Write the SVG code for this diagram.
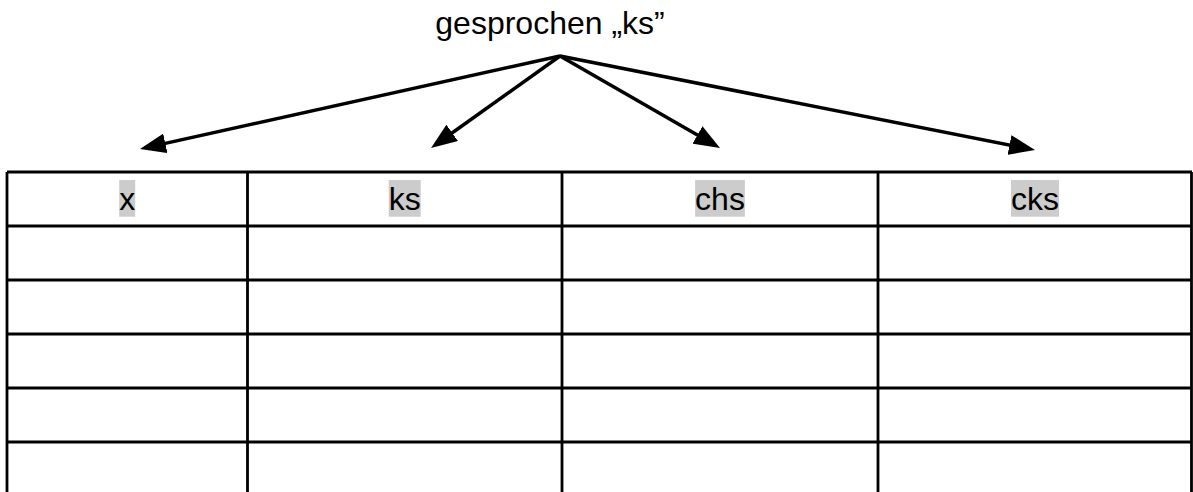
<svg xmlns="http://www.w3.org/2000/svg" width="1193" height="492" viewBox="0 0 1193 492">
  <style>
    .txt { font-family: "Liberation Sans", Arial, sans-serif; font-size: 32px; fill: #000; text-anchor: middle; }
    .hl { fill: #cccccc; }
    .grid { stroke: #000; stroke-width: 2.8; fill: none; }
    .conn { stroke: #000; stroke-width: 3.5; fill: none; marker-end: url(#arrow); }
  </style>
  <defs>
    <marker id="arrow" viewBox="0 0 26 20" refX="14" refY="10" markerWidth="26" markerHeight="20" markerUnits="userSpaceOnUse" orient="auto">
      <path d="M0,0 L26,10 L0,20 z" fill="#000"/>
    </marker>
  </defs>
  <rect width="1193" height="492" fill="#fff"/>

  <g id="title">
    <text class="txt" x="550" y="34">gesprochen „ks”</text>
  </g>

  <g id="connectors">
    <line class="conn" x1="560" y1="56" x2="151.7" y2="146.4"/>
    <line class="conn" x1="560" y1="56" x2="440.8" y2="141"/>
    <line class="conn" x1="560" y1="56" x2="709.6" y2="142"/>
    <line class="conn" x1="560" y1="56" x2="1023.2" y2="147.7"/>
  </g>

  <g id="table">
    <path class="grid" d="M7,172 H1192 M7,226 H1192 M7,280 H1192 M7,334 H1192 M7,388 H1192 M7,442 H1192"/>
    <path class="grid" d="M7,172 V492 M247.5,172 V492 M562,172 V492 M878,172 V492 M1191.5,172 V492"/>
  </g>

  <g id="cell-x">
    <rect class="hl" x="119.2" y="180" width="16" height="36.7"/>
    <text class="txt" x="127.2" y="210">x</text>
  </g>
  <g id="cell-ks">
    <rect class="hl" x="388.7" y="180" width="32" height="36.7"/>
    <text class="txt" x="404.7" y="210">ks</text>
  </g>
  <g id="cell-chs">
    <rect class="hl" x="695.1" y="180" width="49.8" height="36.7"/>
    <text class="txt" x="720" y="210">chs</text>
  </g>
  <g id="cell-cks">
    <rect class="hl" x="1011" y="180" width="48" height="36.7"/>
    <text class="txt" x="1035" y="210">cks</text>
  </g>
</svg>
